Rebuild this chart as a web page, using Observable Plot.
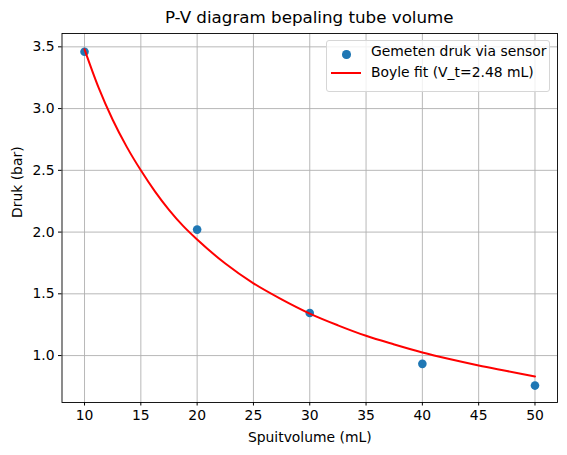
<!DOCTYPE html>
<html>
<head>
<meta charset="utf-8">
<script src="https://cdn.jsdelivr.net/npm/d3@7"></script>
<script src="https://cdn.jsdelivr.net/npm/@observablehq/plot@0.6"></script>
<style>
  body { margin: 0; background: #fff; font-family: "DejaVu Sans", sans-serif; }
  #wrap { position: relative; width: 567px; height: 455px; }
  #title { height: 32px; line-height: 34px; font-size: 16.7px; text-align: center;
           padding-left: 61.5px; padding-right: 10px; box-sizing: border-box; color: #000; }
  #legend { position: absolute; left: 326px; top: 40px; width: 224px; height: 52px;
            box-sizing: border-box; border: 1px solid #d6d6d6; border-radius: 3px;
            background: rgba(255,255,255,0.8); font-size: 13.9px; color: #000; }
  #legend .row { position: absolute; left: 44px; white-space: nowrap; }
  #legend .dot { position: absolute; left: 15px; top: 9px; width: 8.5px; height: 8.5px;
                 border-radius: 50%; background: #1f77b4; }
  #legend .line { position: absolute; left: 4px; top: 31px; width: 30px; height: 2px; background: red; }
</style>
</head>
<body>
<div id="wrap">
  <div id="title">P-V diagram bepaling tube volume</div>
  <div id="chart"></div>
  <div id="legend">
    <span class="dot"></span><span class="row" style="top:2px">Gemeten druk via sensor</span>
    <span class="line"></span><span class="row" style="top:23px">Boyle fit (V_t=2.48 mL)</span>
  </div>
</div>
<script>
"use strict";
// measured points
const volumes = [10, 20, 30, 40, 50];
const pressures = [3.46, 2.02, 1.345, 0.933, 0.757];

// fitted curve
const fitVolumes = [10, 11.25, 12.5, 13.75, 15, 16.25, 17.5, 18.75, 20, 22.5, 25, 27.5, 30, 32.5, 35, 37.5, 40, 42.5, 45, 47.5, 50];
const fitPressures = [3.48, 3.17, 2.91, 2.69, 2.50, 2.33, 2.18, 2.05, 1.94, 1.745, 1.585, 1.455, 1.34, 1.245, 1.16, 1.09, 1.025, 0.97, 0.92, 0.875, 0.83];

const xTicks = [10, 15, 20, 25, 30, 35, 40, 45, 50];
const yTicks = [1.0, 1.5, 2.0, 2.5, 3.0, 3.5];

const points = volumes.map((v, i) => ({ v, p: pressures[i] }));
const fit = fitVolumes.map((v, i) => ({ v, p: fitPressures[i] }));

const GRID = "#b0b0b0";
const FS = "13.9px";

const chart = Plot.plot({
  width: 567, height: 423,
  marginTop: 1, marginBottom: 53, marginLeft: 61.5, marginRight: 10,
  style: { fontFamily: "DejaVu Sans, sans-serif", fontSize: FS, color: "#000", background: "#fff" },
  x: { domain: [8, 52] },
  y: { domain: [0.62, 3.608] },
  marks: [
    Plot.gridX(xTicks, { stroke: GRID, strokeOpacity: 1, strokeWidth: 0.9 }),
    Plot.gridY(yTicks, { stroke: GRID, strokeOpacity: 1, strokeWidth: 0.9 }),
    Plot.axisX(xTicks, { tickSize: 3.5, tickPadding: 4, label: null, fontSize: FS, stroke: "#000" }),
    Plot.axisY(yTicks, { tickSize: 3.5, tickPadding: 4, label: null, fontSize: FS,
      tickFormat: d3.format(".1f"), stroke: "#000" }),
    Plot.dot(points, { x: "v", y: "p", r: 4.3, fill: "#1f77b4", stroke: "none" }),
    Plot.line(fit, { x: "v", y: "p", stroke: "red", strokeWidth: 2, curve: "monotone-x" }),
    Plot.frame({ stroke: "#000", strokeWidth: 0.9 }),
    Plot.text(["Spuitvolume (mL)"], { frameAnchor: "bottom", dy: 35, lineAnchor: "middle", fontSize: FS }),
    Plot.text(["Druk (bar)"], { frameAnchor: "left", dx: -44, rotate: -90, lineAnchor: "middle", fontSize: FS }),
  ],
});
document.getElementById("chart").appendChild(chart);
</script>
</body>
</html>
